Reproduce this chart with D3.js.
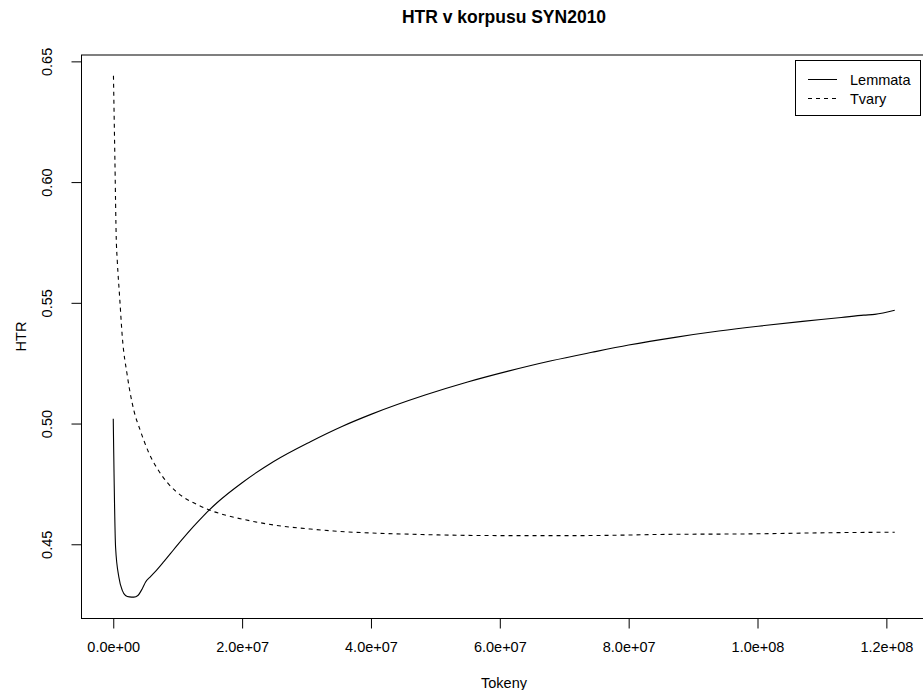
<!DOCTYPE html>
<html>
<head>
<meta charset="utf-8">
<script src="https://cdn.jsdelivr.net/npm/d3@7"></script>
<style>
  body { margin: 0; background: #fff; }
  svg { display: block; font-family: "Liberation Sans", Arial, Helvetica, sans-serif; }
</style>
</head>
<body>
<div id="chart"></div>
<script>
// lemmata: tokens (millions) and HTR
var lemmaTokens = [0, 0.36, 0.87, 1.4, 1.9, 2.5, 3.2, 3.82, 4.5, 5.0, 5.78, 6.8, 7.85, 8.9, 9.66, 11.5, 12.5, 14.0, 16.1, 20.0, 24.9, 30.6, 35.5, 40.0, 48.4, 55.0, 61.3, 68.0, 74.3, 80.0, 87.2, 94.0, 100.1, 107.0, 113.0, 116.5, 118.2, 121.3];
var lemmaHtr = [0.502, 0.4488, 0.4364, 0.4309, 0.4288, 0.4282, 0.4281, 0.4288, 0.4316, 0.4343, 0.4366, 0.4395, 0.4428, 0.4462, 0.4487, 0.4545, 0.4575, 0.4618, 0.4672, 0.4755, 0.4843, 0.4925, 0.4988, 0.5038, 0.5118, 0.5172, 0.5217, 0.5260, 0.5295, 0.5325, 0.5357, 0.5383, 0.5403, 0.5423, 0.5439, 0.5449, 0.5452, 0.5469];

// tvary: tokens (millions) and HTR
var formTokens = [0.03, 0.25, 0.47, 0.62, 1.0, 1.4, 2.17, 3.2, 4.2, 5.5, 6.8, 8.5, 10.9, 13.0, 15.1, 17.5, 20.2, 25.4, 30.6, 34.2, 47.1, 60.0, 72.9, 85.9, 98.8, 111.7, 121.3];
var formHtr = [0.644, 0.610, 0.576, 0.5676, 0.552, 0.536, 0.520, 0.5054, 0.4971, 0.4880, 0.4815, 0.4752, 0.4695, 0.4665, 0.4640, 0.4620, 0.4603, 0.4578, 0.4563, 0.4555, 0.4541, 0.4536, 0.4536, 0.4541, 0.4543, 0.4548, 0.4550];

var xTicks = [0, 2e7, 4e7, 6e7, 8e7, 1e8, 1.2e8];
var xTickLabels = ["0.0e+00", "2.0e+07", "4.0e+07", "6.0e+07", "8.0e+07", "1.0e+08", "1.2e+08"];
var yTicks = [0.45, 0.50, 0.55, 0.60, 0.65];
var yTickLabels = ["0.45", "0.50", "0.55", "0.60", "0.65"];

var seriesNames = ["Lemmata", "Tvary"];

var width = 923, height = 690;
var box = { left: 82, right: 926, top: 55, bottom: 618 };

var lemma = lemmaTokens.map(function (t, i) { return { x: t * 1e6, y: lemmaHtr[i] }; });
var forms = formTokens.map(function (t, i) { return { x: t * 1e6, y: formHtr[i] }; });
var all = lemma.concat(forms);

// R style: extend the data range by 4% on each side
function pad(ext) {
    var d = (ext[1] - ext[0]) * 0.04;
    return [ext[0] - d, ext[1] + d];
}

var x = d3.scaleLinear()
    .domain(pad(d3.extent(all, function (d) { return d.x; })))
    .range([box.left, box.right]);

var y = d3.scaleLinear()
    .domain(pad(d3.extent(all, function (d) { return d.y; })))
    .range([box.bottom, box.top]);

var svg = d3.select("#chart")
    .append("svg")
    .attr("width", width)
    .attr("height", height);

// plot box
svg.append("rect")
    .attr("x", box.left - 0.5)
    .attr("y", box.top)
    .attr("width", box.right - box.left)
    .attr("height", box.bottom - box.top + 0.5)
    .attr("fill", "none")
    .attr("stroke", "#000")
    .attr("stroke-width", 1);

var line = d3.line()
    .x(function (d) { return x(d.x); })
    .y(function (d) { return y(d.y); })
    .curve(d3.curveMonotoneX);

svg.append("path")
    .datum(lemma)
    .attr("fill", "none")
    .attr("stroke", "#000")
    .attr("stroke-width", 1.1)
    .attr("d", line);

svg.append("path")
    .datum(forms)
    .attr("fill", "none")
    .attr("stroke", "#000")
    .attr("stroke-width", 1.1)
    .attr("stroke-dasharray", "4,4")
    .attr("d", line);

// x axis
var xAxis = d3.axisBottom(x)
    .tickValues(xTicks)
    .tickSize(10)
    .tickPadding(10)
    .tickFormat(function (d, i) { return xTickLabels[i]; });

var gx = svg.append("g")
    .attr("transform", "translate(0," + (box.bottom + 0.5) + ")")
    .call(xAxis);
gx.select(".domain").attr("d", "M" + x(xTicks[0]) + ",0H" + x(xTicks[xTicks.length - 1]));
gx.selectAll("text")
    .attr("font-size", 14.5)
    .attr("font-family", "Liberation Sans, Arial, sans-serif")
    .attr("fill", "#000")
    .attr("dy", null)
    .attr("y", 33.5);

// y axis
var yAxis = d3.axisLeft(y)
    .tickValues(yTicks)
    .tickSize(10)
    .tickFormat(function (d, i) { return yTickLabels[i]; });

var gy = svg.append("g")
    .attr("transform", "translate(" + (box.left - 0.5) + ",0)")
    .call(yAxis);
gy.select(".domain").attr("d", "M0," + y(yTicks[0]) + "V" + y(yTicks[yTicks.length - 1]));
gy.selectAll(".tick text")
    .attr("font-size", 14.5)
    .attr("font-family", "Liberation Sans, Arial, sans-serif")
    .attr("fill", "#000")
    .attr("x", null)
    .attr("dy", null)
    .attr("text-anchor", "middle")
    .attr("transform", "translate(-29.5,0) rotate(-90)");

// title and axis titles
svg.append("text")
    .attr("x", (box.left + box.right) / 2)
    .attr("y", 23)
    .attr("text-anchor", "middle")
    .attr("font-size", 17.5)
    .attr("font-weight", "bold")
    .text("HTR v korpusu SYN2010");

svg.append("text")
    .attr("x", (box.left + box.right) / 2)
    .attr("y", 688)
    .attr("text-anchor", "middle")
    .attr("font-size", 14.5)
    .text("Tokeny");

svg.append("text")
    .attr("transform", "translate(26," + ((box.top + box.bottom) / 2) + ") rotate(-90)")
    .attr("text-anchor", "middle")
    .attr("font-size", 14.5)
    .text("HTR");

// legend
var legend = svg.append("g");
legend.append("rect")
    .attr("x", 795.5)
    .attr("y", 60.5)
    .attr("width", 125)
    .attr("height", 55)
    .attr("fill", "#fff")
    .attr("stroke", "#000");

var rows = legend.selectAll("g.row")
    .data(seriesNames)
    .enter().append("g")
    .attr("class", "row")
    .attr("transform", function (d, i) { return "translate(0," + (79.5 + i * 19) + ")"; });

rows.append("line")
    .attr("x1", 808)
    .attr("x2", 837)
    .attr("stroke", "#000")
    .attr("stroke-dasharray", function (d, i) { return i === 1 ? "4,4" : null; });

rows.append("text")
    .attr("x", 850)
    .attr("dy", "0.36em")
    .attr("font-size", 14.5)
    .text(function (d) { return d; });
</script>
</body>
</html>
